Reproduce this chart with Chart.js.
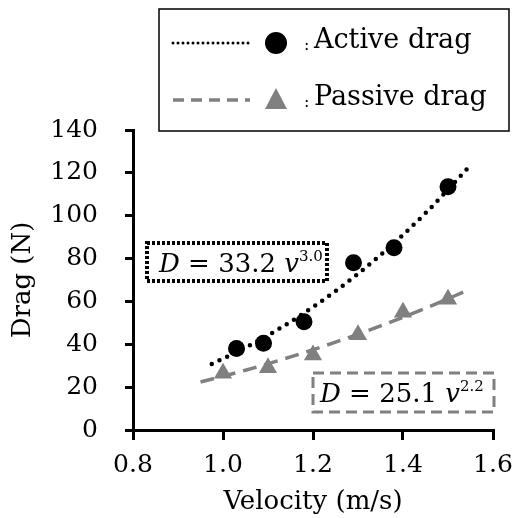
<!DOCTYPE html>
<html>
<head>
<meta charset="utf-8">
<script src="https://cdn.jsdelivr.net/npm/chart.js@4.4.1/dist/chart.umd.min.js"></script>
<style>
  html, body { margin: 0; background: #fff; }
  #wrap { width: 512px; height: 518px; }
</style>
</head>
<body>
<div id="wrap"><canvas id="dragChart"></canvas></div>
<script>
// measured points
const activeV  = [1.03, 1.09, 1.18, 1.29, 1.38, 1.50];
const activeD  = [38, 40.5, 50.5, 78, 85, 113.5];
const passiveV = [1.0, 1.1, 1.2, 1.3, 1.4, 1.5];
const passiveD = [26.5, 29, 35, 44.5, 55, 61];

// fitted curves
const activeFitV  = [0.975, 1.05, 1.15, 1.25, 1.35, 1.45, 1.55];
const activeFitD  = [30.8, 38.4, 50.5, 64.8, 81.7, 101.2, 123.6];
const passiveFitV = [0.95, 1.05, 1.15, 1.25, 1.35, 1.45, 1.55];
const passiveFitD = [22.4, 27.9, 34.1, 41.0, 48.6, 56.8, 65.8];

const seriesNames = ['Active drag', 'Passive drag'];
const fitCoef = ['33.2', '25.1'];
const fitExp  = ['3.0', '2.2'];

const FONT = "'DejaVu Serif', serif";
const GRAY = '#808080';

const pts = (xs, ys) => xs.map((x, i) => ({ x: x, y: ys[i] }));

/* ───────────── legend box + equation boxes ───────────── */

function drawEquation(ctx, x, y, coef, exp) {
  ctx.fillStyle = '#000';
  ctx.textBaseline = 'alphabetic';
  ctx.textAlign = 'left';
  ctx.font = 'italic 26px ' + FONT;
  ctx.fillText('D', x, y);
  x += ctx.measureText('D').width;
  ctx.font = '26px ' + FONT;
  const mid = ' = ' + coef + ' ';
  ctx.fillText(mid, x, y);
  x += ctx.measureText(mid).width;
  ctx.font = 'italic 26px ' + FONT;
  ctx.fillText('v', x, y);
  x += ctx.measureText('v').width;
  ctx.font = '15px ' + FONT;
  ctx.fillText(exp, x, y - 11);
}

const extras = {
  id: 'extras',
  afterDraw(chart) {
    const ctx = chart.ctx;
    ctx.save();

    // legend frame
    ctx.lineWidth = 1.5;
    ctx.strokeStyle = '#000';
    ctx.setLineDash([]);
    ctx.strokeRect(159, 9, 350, 122);

    // row 1: dotted line + circle
    ctx.lineCap = 'round';
    ctx.lineWidth = 3;
    ctx.setLineDash([0, 5]);
    ctx.beginPath(); ctx.moveTo(173, 43); ctx.lineTo(250, 43); ctx.stroke();
    ctx.setLineDash([]);
    ctx.fillStyle = '#000';
    ctx.beginPath(); ctx.arc(276, 43, 11, 0, Math.PI * 2); ctx.fill();

    // row 2: dashed line + triangle
    ctx.lineCap = 'butt';
    ctx.strokeStyle = GRAY;
    ctx.lineWidth = 3.5;
    ctx.setLineDash([11, 7]);
    ctx.beginPath(); ctx.moveTo(173, 100); ctx.lineTo(250, 100); ctx.stroke();
    ctx.setLineDash([]);
    ctx.fillStyle = GRAY;
    ctx.beginPath();
    ctx.moveTo(276, 88); ctx.lineTo(287, 109); ctx.lineTo(265, 109);
    ctx.closePath(); ctx.fill();

    ctx.fillStyle = '#000';
    ctx.textBaseline = 'middle';
    ctx.font = '16px ' + FONT;
    ctx.fillText(':', 304, 46);
    ctx.fillText(':', 304, 103);
    ctx.font = '27px ' + FONT;
    ctx.fillText(seriesNames[0], 314, 41);
    ctx.fillText(seriesNames[1], 314, 98);

    // equation boxes
    ctx.strokeStyle = '#000';
    ctx.lineWidth = 4;
    ctx.setLineDash([3, 2]);
    ctx.strokeRect(147, 243, 180, 38);
    ctx.setLineDash([]);
    drawEquation(ctx, 159, 272, fitCoef[0], fitExp[0]);

    ctx.strokeStyle = GRAY;
    ctx.lineWidth = 3;
    ctx.setLineDash([11, 6]);
    ctx.strokeRect(313, 373, 181, 39);
    ctx.setLineDash([]);
    drawEquation(ctx, 320, 402, fitCoef[1], fitExp[1]);

    ctx.restore();
  }
};

/* ───────────── chart ───────────── */

const axisCommon = {
  grid: { drawOnChartArea: false, color: '#000', lineWidth: 3 },
  border: { color: '#000', width: 3 },
};

new Chart(document.getElementById('dragChart'), {
  type: 'scatter',
  data: {
    datasets: [
      {
        label: seriesNames[0],
        data: pts(activeV, activeD),
        pointStyle: 'circle', pointRadius: 8.5,
        backgroundColor: '#000', borderColor: '#000', borderWidth: 0,
        order: 0
      },
      {
        label: seriesNames[1],
        data: pts(passiveV, passiveD),
        pointStyle: 'triangle', pointRadius: 10.5,
        backgroundColor: GRAY, borderColor: GRAY, borderWidth: 0,
        order: 0
      },
      {
        label: 'active fit',
        data: pts(activeFitV, activeFitD),
        showLine: true, pointRadius: 0,
        borderColor: '#000', borderWidth: 4.5,
        borderDash: [0, 8.5], borderCapStyle: 'round',
        cubicInterpolationMode: 'monotone',
        order: 1
      },
      {
        label: 'passive fit',
        data: pts(passiveFitV, passiveFitD),
        showLine: true, pointRadius: 0,
        borderColor: GRAY, borderWidth: 3.5,
        borderDash: [14, 8],
        cubicInterpolationMode: 'monotone',
        order: 1
      }
    ]
  },
  options: {
    responsive: true,
    maintainAspectRatio: false,
    animation: false,
    layout: { padding: { top: 130, right: 19, left: 0, bottom: 0 } },
    plugins: { legend: { display: false }, tooltip: { enabled: false } },
    scales: {
      x: {
        ...axisCommon,
        grid: { ...axisCommon.grid, tickLength: 10 },
        min: 0.8, max: 1.6,
        ticks: {
          stepSize: 0.2, color: '#000', padding: 10,
          font: { family: FONT, size: 25 },
          callback: v => v.toFixed(1)
        },
        title: {
          display: true, text: 'Velocity (m/s)', color: '#000',
          font: { family: FONT, size: 26 }, padding: { top: 0, bottom: 0 }
        },
        afterFit: s => { s.height = 88; s.paddingLeft = 0; s.paddingRight = 0; }
      },
      y: {
        ...axisCommon,
        grid: { ...axisCommon.grid, tickLength: 8 },
        min: 0, max: 140,
        ticks: {
          stepSize: 20, color: '#000', padding: 27,
          font: { family: FONT, size: 25 }
        },
        title: {
          display: true, text: 'Drag (N)', color: '#000',
          font: { family: FONT, size: 26 }, padding: { top: 8, bottom: 0 }
        },
        afterFit: s => { s.width = 133; s.paddingTop = 0; s.paddingBottom = 0; }
      }
    }
  },
  plugins: [extras]
});
</script>
</body>
</html>
